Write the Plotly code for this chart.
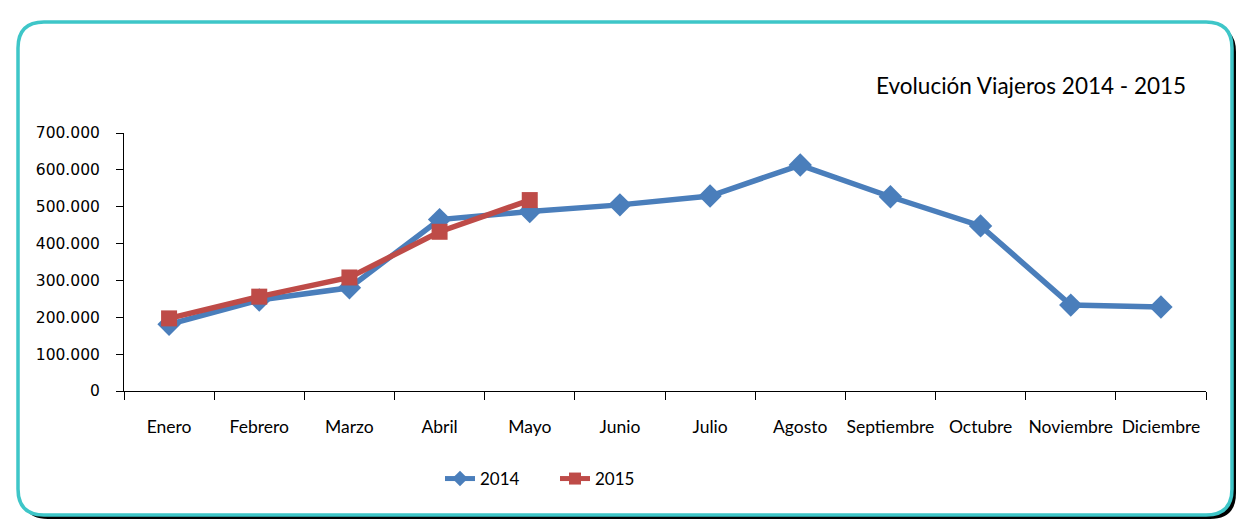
import plotly.graph_objects as go

months = ["Enero", "Febrero", "Marzo", "Abril", "Mayo", "Junio", "Julio",
          "Agosto", "Septiembre", "Octubre", "Noviembre", "Diciembre"]
v2014 = [181000, 247000, 280000, 465000, 487000, 505000, 529000,
         613000, 527000, 448000, 233000, 228000]
v2015 = [197000, 256000, 308000, 432000, 518000]
title_text = "Evolución Viajeros 2014 - 2015"

W, H = 1253, 530
L, R, T, B = 124, 1206, 133, 391

def px(x):
    return (x - L) / (R - L)

def py(y):
    return (B - y) / (B - T)

def rrect(x0, y0, x1, y1, r):
    return (f"M {px(x0 + r)} {py(y0)} L {px(x1 - r)} {py(y0)} "
            f"Q {px(x1)} {py(y0)} {px(x1)} {py(y0 + r)} "
            f"L {px(x1)} {py(y1 - r)} Q {px(x1)} {py(y1)} {px(x1 - r)} {py(y1)} "
            f"L {px(x0 + r)} {py(y1)} Q {px(x0)} {py(y1)} {px(x0)} {py(y1 - r)} "
            f"L {px(x0)} {py(y0 + r)} Q {px(x0)} {py(y0)} {px(x0 + r)} {py(y0)} Z")

fig = go.Figure()
fig.add_trace(go.Scatter(x=months, y=v2014, name="2014", mode="lines+markers",
                         line=dict(color="#4A7EBB", width=5.5),
                         marker=dict(symbol="diamond", size=18, color="#4A7EBB")))
fig.add_trace(go.Scatter(x=months[:len(v2015)], y=v2015, name="2015", mode="lines+markers",
                         line=dict(color="#BE4B48", width=5.5),
                         marker=dict(symbol="square", size=16, color="#BE4B48")))

shapes = [
    dict(type="path", xref="paper", yref="paper", path=rrect(22, 26, 1236, 519, 26),
         fillcolor="black", line=dict(width=0), layer="below"),
    dict(type="path", xref="paper", yref="paper", path=rrect(18, 22, 1232, 515, 26),
         fillcolor="white", line=dict(color="#3EC6C8", width=3.5), layer="below"),
]

fig.update_layout(
    width=W, height=H,
    margin=dict(l=L, r=W - R, t=T, b=H - B),
    paper_bgcolor="white", plot_bgcolor="rgba(0,0,0,0)",
    separators=",.",
    font=dict(family="Lato, Open Sans, sans-serif", size=16, color="black"),
    shapes=shapes,
    showlegend=True,
    legend=dict(orientation="h", x=px(555), y=py(479), xanchor="center", yanchor="middle",
                font=dict(size=17), bgcolor="rgba(0,0,0,0)", entrywidth=70,
                itemsizing="constant"),
    annotations=[dict(text=title_text, xref="paper", yref="paper", x=px(1188), y=py(86),
                      xanchor="right", yanchor="middle", showarrow=False,
                      font=dict(size=22.5, color="black"))],
)
fig.update_xaxes(type="category", range=[-0.5, 11.5], showgrid=False, showline=True,
                 linecolor="black", linewidth=1, ticks="outside", ticklen=8,
                 tickcolor="black", tickson="boundaries", tickangle=0,
                 tickfont=dict(size=17.5), ticklabelstandoff=20, zeroline=False)
fig.update_yaxes(range=[0, 700000], dtick=100000, tickformat=",d", showgrid=False,
                 showline=True, linecolor="black", linewidth=1, ticks="outside",
                 ticklen=7, tickcolor="black", zeroline=False,
                 tickfont=dict(family="DejaVu Sans", size=15.5),
                 ticklabelstandoff=13)

fig.write_html("out.html", post_script="document.body.style.margin='0';",
               config={"displayModeBar": False})
